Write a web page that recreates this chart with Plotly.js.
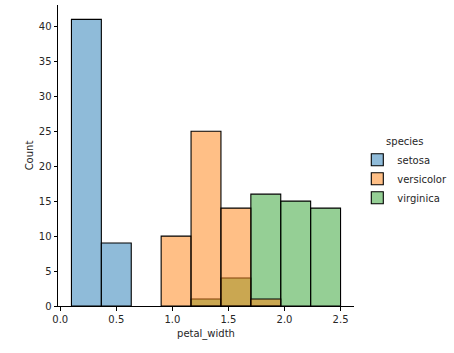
<!DOCTYPE html>
<html>
<head>
<meta charset="utf-8">
<script src="https://cdn.plot.ly/plotly-3.0.1.min.js"></script>
<style>html,body{margin:0;padding:0;background:#fff;}#chart{width:454px;height:353px;}</style>
</head>
<body>
<div id="chart"></div>
<script>
// Histogram bins: 9 equal bins from 0.1 to 2.5
const binStart = 0.1;
const binEnd = 2.5;
const binCount = 9;
const species = ["setosa", "versicolor", "virginica"];
const setosaCounts = [41, 9, 0, 0, 0, 0, 0, 0, 0];
const versicolorCounts = [0, 0, 0, 10, 25, 14, 1, 0, 0];
const virginicaCounts = [0, 0, 0, 0, 1, 4, 16, 15, 14];
const xTicks = [0.0, 0.5, 1.0, 1.5, 2.0, 2.5];
const yTicks = [0, 5, 10, 15, 20, 25, 30, 35, 40];

const binWidth = (binEnd - binStart) / binCount;
const centers = [];
for (let i = 0; i < binCount; i++) centers.push(binStart + binWidth * (i + 0.5));

const fills = ["rgba(31,119,180,0.5)", "rgba(255,127,14,0.5)", "rgba(44,160,44,0.5)"];
const countsBySpecies = [setosaCounts, versicolorCounts, virginicaCounts];

const traces = species.map((name, k) => {
  const xs = [], ys = [];
  countsBySpecies[k].forEach((c, i) => { if (c > 0) { xs.push(centers[i]); ys.push(c); } });
  return {
    type: "bar", name: name, x: xs, y: ys, width: binWidth,
    marker: {color: fills[k], line: {color: "rgba(0,0,0,1)", width: 1.1}},
    hoverinfo: "x+y"
  };
}).reverse(); // seaborn draws the last hue first

const font = {family: "DejaVu Sans", size: 10, color: "#262626"};
const layout = {
  width: 454, height: 353,
  margin: {l: 58, r: 100, t: 5, b: 47, autoexpand: false},
  paper_bgcolor: "#fff", plot_bgcolor: "#fff",
  barmode: "overlay", bargap: 0,
  font: font,
  showlegend: true,
  legend: {
    title: {text: "species", side: "top center", font: font},
    xref: "container", yref: "container",
    x: 0.787, xanchor: "left", y: 0.512, yanchor: "middle",
    traceorder: "reversed",
    font: font, bgcolor: "rgba(0,0,0,0)", tracegroupgap: 0, itemgap: 0
  },
  xaxis: {
    range: [-0.02, 2.62], tickvals: xTicks, ticktext: xTicks.map(v => v.toFixed(1)),
    ticks: "outside", ticklen: 3.5, tickcolor: "#000", tickwidth: 1,
    showline: true, linecolor: "#000", linewidth: 1, showgrid: false, zeroline: false,
    title: {text: "petal_width", font: font, standoff: 6},
    tickfont: font
  },
  yaxis: {
    range: [0, 43.05], tickvals: yTicks,
    ticks: "outside", ticklen: 3.5, tickcolor: "#000", tickwidth: 1,
    showline: true, linecolor: "#000", linewidth: 1, showgrid: false, zeroline: false,
    title: {text: "Count", font: font, standoff: 3},
    tickfont: font
  }
};

Plotly.newPlot("chart", traces, layout, {displayModeBar: false, staticPlot: true});
</script>
</body>
</html>
